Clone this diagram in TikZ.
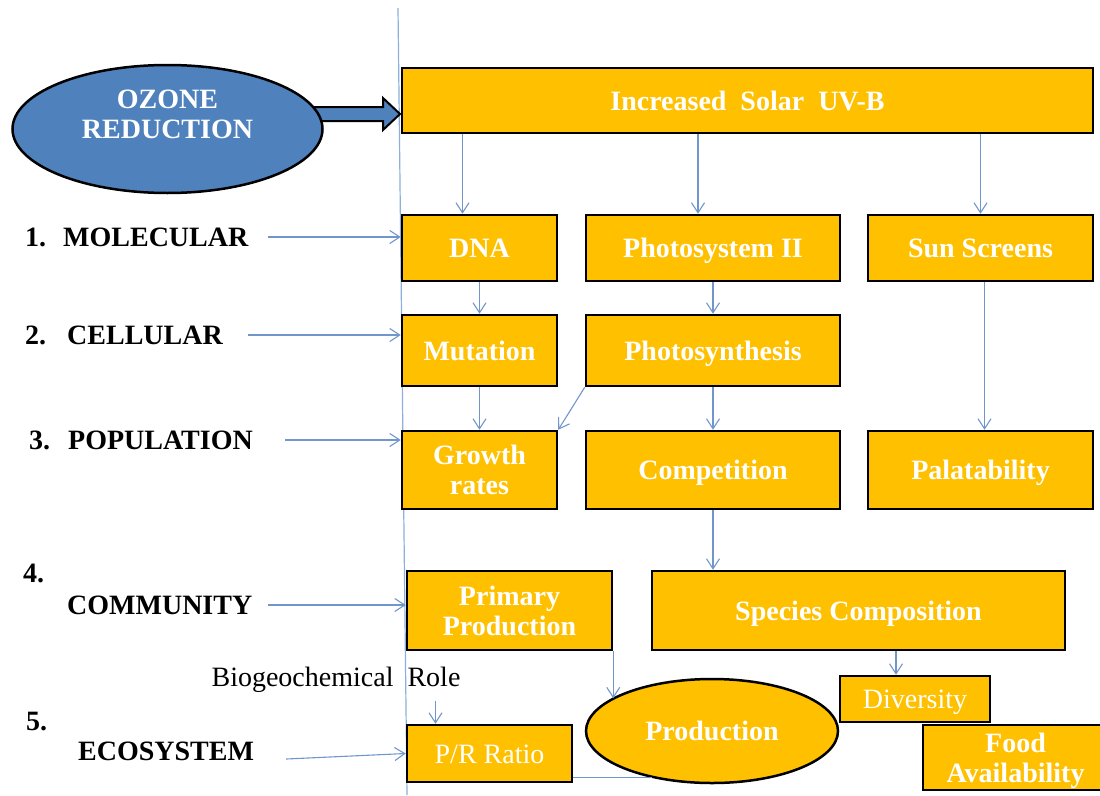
\documentclass[tikz,border=0pt]{standalone}
\usepackage{fontspec}
\setmainfont{Liberation Serif}
\usetikzlibrary{arrows.meta,shapes.geometric}
\definecolor{uvgold}{RGB}{255,192,0}
\definecolor{ozoneblue}{RGB}{79,129,189}
\definecolor{linkblue}{RGB}{112,150,204}
\definecolor{spineblue}{RGB}{140,175,220}

\begin{document}
\begin{tikzpicture}[x=1pt,y=-1pt,
  box/.style={rectangle,draw=black,line width=2.5pt,fill=uvgold,text=white,font=\bfseries,align=center,inner sep=0pt},
  oneline/.style={box,text height=20pt,text depth=1pt},
  oval/.style={ellipse,draw=black,line width=2.5pt,inner sep=0pt,text=white,font=\bfseries,align=center},
  level/.style={anchor=west,inner sep=0pt,font=\bfseries},
  link/.style={draw=linkblue,line width=1.1pt,-{Straight Barb[length=10pt,width=13pt]}}]
\fontsize{28}{30}\selectfont
\useasboundingbox (0,0) rectangle (1100,795);

\coordinate (top) at (398,8); \coordinate (bottom) at (407,795);
\draw [spineblue,line width=1.2pt] (top) -- (bottom);

\node [oneline,minimum width=691pt,minimum height=65pt] (uvb) at (747.5,100.5) {Increased\ \ Solar\ \ UV-B};

\node [oneline,minimum width=155pt,minimum height=66pt] (dna) at (479.5,248) {DNA};
\node [oneline,minimum width=254pt,minimum height=66pt] (psii) at (713,248) {Photosystem II};
\node [oneline,minimum width=225pt,minimum height=66pt] (sun) at (980.5,248) {Sun Screens};

\node [oneline,minimum width=155pt,minimum height=71pt] (mut) at (479.5,350.5) {Mutation};
\node [oneline,minimum width=254pt,minimum height=71pt] (phs) at (713,350.5) {Photosynthesis};

\node [box,minimum width=155pt,minimum height=78pt] (grow) at (479.5,470) {Growth\\rates};
\node [oneline,minimum width=254pt,minimum height=78pt] (comp) at (713,470) {Competition};
\node [oneline,minimum width=225pt,minimum height=78pt] (pal) at (980.5,470) {Palatability};

\node [box,minimum width=205pt,minimum height=79pt] (prim) at (509.5,610.5) {Primary\\Production};
\node [oneline,minimum width=413pt,minimum height=79pt] (spec) at (858.5,610.5) {Species Composition};

\node [oneline,font=\normalfont,minimum width=150pt,minimum height=46pt] (div) at (915,699) {Diversity};
\node [box,text depth=0pt,minimum width=185pt,minimum height=65pt] (food) at (1015.5,757.5) {Food\\Availability};
\node [oneline,font=\normalfont,minimum width=165pt,minimum height=57pt] (pr) at (489.5,753.5) {P/R Ratio};
\node [oval,fill=uvgold,minimum width=252pt,minimum height=104pt] (prod) at (712,731) {Production};

\node [inner sep=0pt] (bgr) at (336,680) {Biogeochemical\ \ Role};

\draw [fill=ozoneblue,line width=2pt] (300,107) -- (383,107) -- (383,98) -- (400,114) -- (383,130) -- (383,121) -- (300,121) -- cycle;
\node [oval,fill=ozoneblue,text depth=30pt,minimum width=310pt,minimum height=128pt] (ozone) at (167.5,129) {OZONE\\REDUCTION};

\node [level] (num1) at (25,237) {1.}; \node [level] (lab1) at (63,237) {MOLECULAR};
\node [level] (num2) at (25,335) {2.}; \node [level] (lab2) at (67,335) {CELLULAR};
\node [level] (num3) at (29,440) {3.}; \node [level] (lab3) at (68,440) {POPULATION};
\node [level] (num4) at (23,573) {4.}; \node [level] (lab4) at (67,605) {COMMUNITY};
\node [level] (num5) at (26,722) {5.}; \node [level] (lab5) at (78,751) {ECOSYSTEM};

\draw [link] (lab1.east) ++(19,0) -- (dna.west |- lab1.east);
\draw [link] (lab2.east) ++(25,0) -- (mut.west |- lab2.east);
\draw [link] (lab3.east) ++(32,0) -- (grow.west |- lab3.east);
\draw [link] (lab4.east) ++(16,0) -- (prim.west |- lab4.east);
\draw [link] (lab5.east) ++(32,8) -- (pr.west);

\draw [link] ([xshift=-17pt]dna.north |- uvb.south) -- ([xshift=-17pt]dna.north);
\draw [link] ([xshift=-15pt]psii.north |- uvb.south) -- ([xshift=-15pt]psii.north);
\draw [link] (sun.north |- uvb.south) -- (sun.north);
\draw [link] (dna.south) -- (mut.north); \draw [link] (psii.south) -- (phs.north);
\draw [link] (mut.south) -- (grow.north); \draw [link] (phs.south west) -- (grow.north east);
\draw [link] (phs.south) -- (comp.north);
\draw [link] ([xshift=4pt]sun.south) -- ([xshift=4pt]pal.north);
\draw [link] (comp.south) -- (comp.south |- spec.north);
\draw [link] ([xshift=-19pt]div.north |- spec.south) -- ([xshift=-19pt]div.north);
\draw [link] (prim.south east) -- (prim.south east |- prod.162);
\draw [link,-] (prod.218) -- (prod.218 -| pr.east);
\draw [link,shorten <=8pt] ([xshift=-54pt]pr.north |- bgr.south) -- ([xshift=-54pt]pr.north);

\end{tikzpicture}
\end{document}
